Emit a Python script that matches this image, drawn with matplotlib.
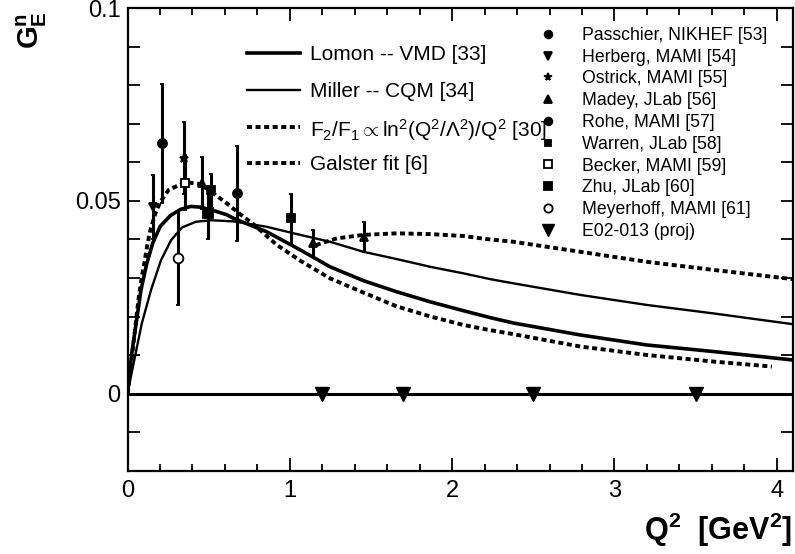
import matplotlib
matplotlib.use("Agg")
import matplotlib.pyplot as plt
from matplotlib.lines import Line2D
from matplotlib.ticker import MultipleLocator, FixedLocator, FixedFormatter

plt.rcParams['font.family'] = ['Liberation Sans', 'DejaVu Sans']
plt.rcParams['mathtext.fontset'] = 'custom'
plt.rcParams['mathtext.rm'] = 'Liberation Sans'
plt.rcParams['mathtext.it'] = 'Liberation Sans:italic'
plt.rcParams['mathtext.bf'] = 'Liberation Sans:bold'

# ---- theory curves (Q^2 in GeV^2, G_E^n) ----
lomon_q2 = [0, 0.026, 0.083, 0.119, 0.155, 0.201, 0.264, 0.326, 0.39, 0.449, 0.531,
            0.613, 0.653, 0.858, 1.064, 1.248, 1.454, 1.66, 1.866, 2.07, 2.235, 2.379,
            2.79, 3.20, 3.61, 4.1]
lomon_ge = [0, 0.0104, 0.0269, 0.0338, 0.0390, 0.0434, 0.0462, 0.0478, 0.0486, 0.0484, 0.0475,
            0.0464, 0.0455, 0.0420, 0.0373, 0.0329, 0.0293, 0.0264, 0.0238, 0.0215, 0.0197, 0.0183,
            0.0152, 0.0126, 0.0109, 0.0087]

miller_q2 = [0, 0.046, 0.088, 0.145, 0.206, 0.268, 0.335, 0.42, 0.515, 0.653, 0.858,
             1.064, 1.248, 1.454, 1.66, 1.866, 2.07, 2.235, 2.379, 2.79, 3.20, 3.61, 4.1]
miller_ge = [0, 0.0096, 0.0182, 0.0269, 0.0346, 0.0398, 0.0431, 0.0446, 0.0450, 0.0447, 0.0433,
             0.0412, 0.0394, 0.0368, 0.0349, 0.0329, 0.0312, 0.0297, 0.0286, 0.0256, 0.0230, 0.0208, 0.0180]

galster_q2 = [0, 0.026, 0.046, 0.067, 0.088, 0.100, 0.120, 0.141, 0.172, 0.202, 0.254,
              0.326, 0.375, 0.447, 0.529, 0.611, 0.693, 0.775, 0.919, 1.064, 1.248,
              1.454, 1.66, 1.866, 2.07, 2.215, 2.379, 2.79, 3.20, 3.61, 3.97]
galster_ge = [0, 0.0090, 0.0165, 0.0243, 0.0303, 0.0329, 0.0381, 0.0425, 0.0468, 0.0498, 0.0529,
              0.0543, 0.0548, 0.0544, 0.0520, 0.0494, 0.0466, 0.0440, 0.0386, 0.0345, 0.0299,
              0.0262, 0.0226, 0.0200, 0.0178, 0.0166, 0.0154, 0.0122, 0.0100, 0.0083, 0.0070]

f2f1_q2 = [1.16, 1.207, 1.29, 1.454, 1.66, 1.866, 2.07, 2.215, 2.379, 2.79, 3.20, 3.61, 4.1]
f2f1_ge = [0.0385, 0.0392, 0.0403, 0.0412, 0.0416, 0.0414, 0.0409, 0.0401, 0.0394, 0.0368,
           0.0342, 0.0321, 0.0297]

# ---- measurements ----
passchier_q2, passchier_ge, passchier_err = [0.215], [0.065], [0.0155]
herberg_q2, herberg_ge, herberg_err = [0.155], [0.0485], [0.0083]
ostrick_q2, ostrick_ge, ostrick_err = [0.348], [0.0612], [0.0094]
madey_q2, madey_ge, madey_err = [0.46, 1.14, 1.46], [0.0546, 0.0390, 0.0407], [0.0068, 0.0035, 0.0039]
rohe_q2, rohe_ge, rohe_err = [0.677], [0.052], [0.0123]
warren_q2, warren_ge, warren_err = [0.513, 1.008], [0.0529, 0.0455], [0.0042, 0.0064]
becker_q2, becker_ge, becker_err = [0.357], [0.0548], [0.0072]
zhu_q2, zhu_ge, zhu_err = [0.498], [0.0468], [0.0068]
meyerhoff_q2, meyerhoff_ge, meyerhoff_err = [0.313], [0.0351], [0.0120]
e02013_q2, e02013_ge = [1.2, 1.7, 2.5, 3.5], [0, 0, 0, 0]

fig = plt.figure(figsize=(7.95, 5.54), dpi=100)
ax = fig.add_axes([0.1604, 0.1507, 0.8371, 0.834])

dash = (0, (1.3, 0.9))
thick = dict(color='black', lw=2.6)
thin = dict(color='black', lw=1.7)
dotted = dict(color='black', lw=2.8, ls=dash)

ax.axhline(0, color='black', lw=2.2, zorder=1)
ax.plot(lomon_q2, lomon_ge, zorder=2, **thick)
ax.plot(miller_q2, miller_ge, zorder=2, **thin)
ax.plot(f2f1_q2, f2f1_ge, zorder=2, **dotted)
ax.plot(galster_q2, galster_ge, zorder=2, **dotted)

datasets = [
    (passchier_q2, passchier_ge, passchier_err, 'o', 6.5, 'black', 'Passchier, NIKHEF [53]'),
    (herberg_q2, herberg_ge, herberg_err, 'v', 6.0, 'black', 'Herberg, MAMI [54]'),
    (ostrick_q2, ostrick_ge, ostrick_err, '*', 6.5, 'black', 'Ostrick, MAMI [55]'),
    (madey_q2, madey_ge, madey_err, '^', 6.0, 'black', 'Madey, JLab [56]'),
    (rohe_q2, rohe_ge, rohe_err, 'o', 6.5, 'black', 'Rohe, MAMI [57]'),
    (warren_q2, warren_ge, warren_err, 's', 5.5, 'black', 'Warren, JLab [58]'),
    (becker_q2, becker_ge, becker_err, 's', 6.0, 'white', 'Becker, MAMI [59]'),
    (zhu_q2, zhu_ge, zhu_err, 's', 6.5, 'black', 'Zhu, JLab [60]'),
    (meyerhoff_q2, meyerhoff_ge, meyerhoff_err, 'o', 7.0, 'white', 'Meyerhoff, MAMI [61]'),
]
data_handles = []
for q2, ge, err, mk, ms, fc, lab in datasets:
    ax.errorbar(q2, ge, yerr=err, fmt=mk, ms=ms, mfc=fc, mec='black', mew=1.3,
                ecolor='black', elinewidth=2.2, capsize=1.5, capthick=1.5, zorder=4)
    data_handles.append(Line2D([], [], ls='none', marker=mk, ms=ms * 0.85, mfc=fc,
                               mec='black', mew=1.3, label=lab))
ax.plot(e02013_q2, e02013_ge, ls='none', marker='v', ms=9.5, color='black', zorder=5)
data_handles.append(Line2D([], [], ls='none', marker='v', ms=9.0, color='black',
                           label='E02-013 (proj)'))

# key for the model curves
curve_keys = [
    (thick, 'Lomon -- VMD [33]'),
    (thin, 'Miller -- CQM [34]'),
    (dotted, r'F$_2$/F$_1\propto$ln$^2$(Q$^2$/$\Lambda^2$)/Q$^2$ [30]'),
    (dotted, 'Galster fit [6]'),
]
key_rows = [0.9037, 0.8236, 0.7435, 0.6656]
for (style, label), yk in zip(curve_keys, key_rows):
    ax.add_line(Line2D([0.1796, 0.2592], [yk, yk], transform=ax.transAxes, **style))
    ax.text(0.2742, yk, label, transform=ax.transAxes, ha='left', va='center_baseline',
            fontsize=15)

ax.legend(handles=data_handles, loc='upper left', bbox_to_anchor=(0.618, 0.96),
          frameon=False, fontsize=12.7, handlelength=1.0, handletextpad=1.44,
          labelspacing=0.27, borderpad=0, borderaxespad=0)

ax.set_xlim(0, 4.1)
ax.set_ylim(-0.02, 0.1)
ax.xaxis.set_major_locator(MultipleLocator(1))
ax.xaxis.set_minor_locator(MultipleLocator(0.2))
ax.yaxis.set_major_locator(FixedLocator([0, 0.05, 0.1]))
ax.yaxis.set_major_formatter(FixedFormatter(['0', '0.05', '0.1']))
ax.yaxis.set_minor_locator(MultipleLocator(0.01))
ax.tick_params(axis='both', which='both', direction='in', top=True, right=True,
               labelsize=17, width=1.3)
ax.tick_params(axis='x', which='major', length=9.5, pad=7)
ax.tick_params(axis='x', which='minor', length=5)
ax.tick_params(axis='y', which='both', length=8.5, pad=5)
for s in ax.spines.values():
    s.set_linewidth(1.6)

fig.text(0.040, 0.980, r'$\mathbf{G_E^n}$', rotation=90, ha='center', va='top', fontsize=21)
fig.text(0.997, 0.043, r'$\mathbf{Q^2\ \ [GeV^2]}$', ha='right', va='center', fontsize=22)

fig.savefig('out.png', dpi=100)
